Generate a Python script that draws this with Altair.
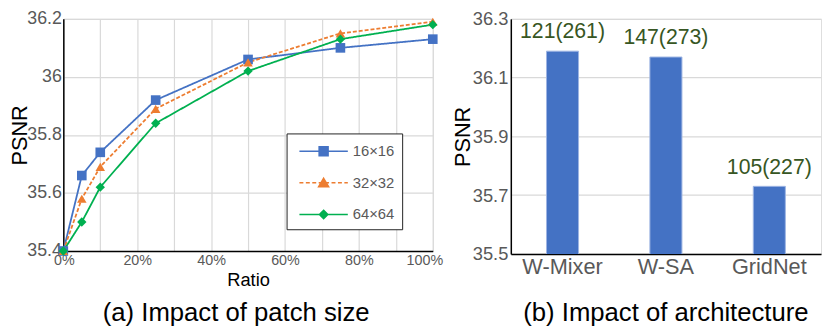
import altair as alt
import pandas as pd

FONT = "Liberation Sans"

# ---- data (a) ----
ratios = [0, 5, 10, 25, 50, 75, 100]
series_names = ["16×16", "32×32", "64×64"]
psnr_16 = [35.40, 35.66, 35.74, 35.92, 36.06, 36.10, 36.13]
psnr_32 = [35.40, 35.58, 35.69, 35.89, 36.05, 36.15, 36.19]
psnr_64 = [35.40, 35.50, 35.62, 35.84, 36.02, 36.13, 36.18]

# ---- data (b) ----
archs = ["W-Mixer", "W-SA", "GridNet"]
arch_psnr = [36.19, 36.17, 35.73]
arch_labels = ["121(261)", "147(273)", "105(227)"]

# ---- styles ----
colors = ["#4472C4", "#ED7D31", "#00B050"]
dashes = [[1, 0], [4, 2], [1, 0]]
shapes = ["square", "triangle-up", "diamond"]
sizes = [95, 90, 70]
markers = [
    "M1.5,-0.45H2.4V0.45H1.5Z",
    "M1.95,-0.45L2.45,0.4H1.45Z",
    "M1.95,-0.42L2.37,0L1.95,0.42L1.53,0Z",
]


def legend_path(marker, dashed):
    x0, x1 = -0.5, 4.4
    if dashed:
        segs = []
        x = x0
        while x < x1:
            segs.append("M%.2f,0H%.2f" % (x, min(x + 0.4, x1)))
            x += 0.65
        line = "".join(segs)
    else:
        line = "M%.2f,0H%.2f" % (x0, x1)
    return line + marker


legend_paths = [legend_path(m, d == [4, 2]) for m, d in zip(markers, dashes)]

rows = []
for name, vals in zip(series_names, [psnr_16, psnr_32, psnr_64]):
    for r, v in zip(ratios, vals):
        rows.append({"ratio": r, "psnr": v, "series": name})
df_a = pd.DataFrame(rows)

df_b = pd.DataFrame({"arch": archs, "psnr": arch_psnr, "label": arch_labels})

x_a = alt.X(
    "ratio:Q",
    scale=alt.Scale(domain=[0, 100], nice=False),
    axis=alt.Axis(
        title="Ratio",
        values=list(range(0, 101, 10)),
        labelExpr="datum.value % 20 == 0 ? datum.value + '%' : ''",
        labelFontSize=14.5,
        labelColor="#595959",
        labelFont=FONT,
        labelFlush=True,
        labelFlushOffset=10,
        titleFont=FONT,
        titleFontSize=18.5,
        titleFontWeight="normal",
        titleColor="black",
        titlePadding=3,
        ticks=False,
        domainColor="black",
        domainWidth=1.5,
        gridColor="#D9D9D9",
        gridWidth=1.2,
        labelPadding=3,
    ),
)
y_a = alt.Y(
    "psnr:Q",
    scale=alt.Scale(domain=[35.4, 36.2], nice=False),
    axis=alt.Axis(
        title="PSNR",
        values=[35.4, 35.6, 35.8, 36.0, 36.2],
        format="~g",
        labelFontSize=18,
        labelColor="#595959",
        labelFont=FONT,
        labelFlush=False,
        titleFont=FONT,
        titleFontSize=22,
        titleFontWeight="normal",
        titleColor="black",
        titleX=-44.5,
        titleBaseline="middle",
        ticks=False,
        domainColor="black",
        domainWidth=1.5,
        gridColor="#D9D9D9",
        gridWidth=1.2,
        labelPadding=2,
    ),
)

color_scale = alt.Scale(domain=series_names, range=colors)

lines = alt.Chart(df_a).mark_line(strokeWidth=1.8).encode(
    x=x_a,
    y=y_a,
    color=alt.Color("series:N", scale=color_scale, legend=None),
    strokeDash=alt.StrokeDash("series:N", scale=alt.Scale(domain=series_names, range=dashes), legend=None),
)

points = alt.Chart(df_a).mark_point(filled=True, opacity=1).encode(
    x=x_a,
    y=y_a,
    color=alt.Color("series:N", scale=color_scale, legend=None),
    shape=alt.Shape("series:N", scale=alt.Scale(domain=series_names, range=shapes), legend=None),
    size=alt.Size("series:N", scale=alt.Scale(domain=series_names, range=sizes), legend=None),
)

leg = dict(
    title=None,
    orient="none",
    legendX=226,
    legendY=116,
    strokeColor="#222222",
    fillColor="white",
    padding=7,
    symbolSize=400,
    symbolStrokeWidth=1.6,
    symbolOpacity=1,
    labelFontSize=15,
    labelColor="#595959",
    labelFont=FONT,
    labelOffset=38,
    rowPadding=13,
)

legend_layer = alt.Chart(df_a).mark_point(opacity=0, strokeWidth=1.6).encode(
    x=x_a,
    y=y_a,
    shape=alt.Shape("series:N", scale=alt.Scale(domain=series_names, range=legend_paths), legend=alt.Legend(**leg)),
    fill=alt.Fill("series:N", scale=alt.Scale(domain=series_names, range=colors), legend=alt.Legend(**leg)),
    stroke=alt.Stroke("series:N", scale=alt.Scale(domain=series_names, range=colors), legend=alt.Legend(**leg)),
)

chart_a = (
    alt.layer(lines, points, legend_layer)
    .resolve_scale(shape="independent", fill="independent", stroke="independent", size="independent")
    .properties(
        width=374,
        height=235,
        title=alt.TitleParams(
            "(a) Impact of patch size",
            orient="bottom",
            fontSize=26,
            font=FONT,
            fontWeight="normal",
            color="black",
            anchor="middle",
            dx=-12,
            offset=12,
        ),
    )
)

# ---- chart (b) ----
x_b = alt.X(
    "arch:N",
    sort=archs,
    scale=alt.Scale(paddingInner=0.69, paddingOuter=0.345),
    axis=alt.Axis(
        title=None,
        labelAngle=0,
        labelFontSize=22,
        labelColor="#595959",
        labelFont=FONT,
        ticks=False,
        domainColor="black",
        domainWidth=1.5,
        labelPadding=3,
    ),
)
y_b = alt.Y(
    "psnr:Q",
    scale=alt.Scale(domain=[35.5, 36.3], nice=False, zero=False),
    axis=alt.Axis(
        title="PSNR",
        values=[35.5, 35.7, 35.9, 36.1, 36.3],
        format=".1f",
        labelFontSize=18.5,
        labelColor="#595959",
        labelFont=FONT,
        labelFlush=False,
        titleFont=FONT,
        titleFontSize=22,
        titleFontWeight="normal",
        titleColor="black",
        titleX=-49,
        titleBaseline="middle",
        ticks=False,
        domainColor="black",
        domainWidth=1.5,
        gridColor="#D9D9D9",
        gridWidth=1.2,
        labelPadding=3,
    ),
)

bars = alt.Chart(df_b).mark_bar(
    color="#4472C4", stroke="#9DB5E3", strokeWidth=1, clip=True
).encode(x=x_b, y=y_b)
texts = alt.Chart(df_b).mark_text(
    fontSize=21.5, font=FONT, color="#375623", baseline="alphabetic", dy=-13
).encode(x=x_b, y=y_b, text="label:N")

chart_b = alt.layer(bars, texts).properties(
    width=314,
    height=238,
    title=alt.TitleParams(
        "(b) Impact of architecture",
        orient="bottom",
        fontSize=26,
        font=FONT,
        fontWeight="normal",
        color="black",
        anchor="middle",
        offset=23,
    ),
)

chart = (
    alt.hconcat(chart_a, chart_b, spacing=5)
    .properties(padding={"left": 0, "top": -1, "right": 0, "bottom": 0})
    .configure_view(stroke="black", strokeWidth=1.5)
    .configure(font=FONT)
)

chart.save("out.html", embed_options={"renderer": "svg", "actions": False})
